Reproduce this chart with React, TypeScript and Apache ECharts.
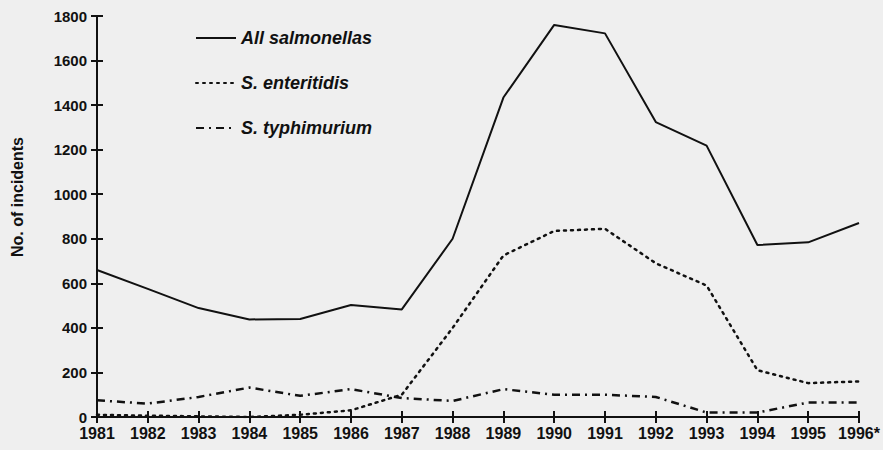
import React, { useEffect, useRef } from "react";
import * as echarts from "echarts";

const years = ["1981", "1982", "1983", "1984", "1985", "1986", "1987", "1988", "1989", "1990", "1991", "1992", "1993", "1994", "1995", "1996*"];
const allSalmonellas = [660, 575, 489, 438, 440, 503, 483, 800, 1434, 1760, 1722, 1324, 1218, 772, 784, 871];
const enteritidis = [10, 6, 3, 0, 10, 30, 100, 400, 725, 835, 845, 690, 590, 210, 152, 160];
const typhimurium = [75, 60, 90, 132, 95, 125, 85, 72, 125, 100, 100, 90, 20, 20, 65, 65];
const yTicks = { min: 0, max: 1800, interval: 200 };
const seriesNames = ["All salmonellas", "S. enteritidis", "S. typhimurium"];
const yAxisTitle = "No. of incidents";

export default function App() {
  const ref = useRef<HTMLDivElement>(null);
  useEffect(() => {
    if (!ref.current) return;
    const chart = echarts.init(ref.current, null, { renderer: "svg" });
    const black = "#111";
    const font = "'Liberation Sans', Arial, sans-serif";
    chart.setOption({
      animation: false,
      backgroundColor: "#efefef",
      grid: { left: 97, right: 24, top: 16, bottom: 33, containLabel: false },
      legend: {
        orient: "vertical",
        left: 190,
        top: 24,
        padding: 5,
        itemWidth: 40,
        itemHeight: 14,
        itemGap: 27,
        data: seriesNames,
        itemStyle: { opacity: 0 },
        textStyle: { fontFamily: font, fontWeight: "bold", fontStyle: "italic", fontSize: 18, color: black },
      },
      graphic: [
        {
          type: "text",
          x: 17,
          y: 197,
          rotation: Math.PI / 2,
          style: {
            text: yAxisTitle,
            fill: black,
            font: "bold 16px 'Liberation Sans', Arial, sans-serif",
            align: "center",
            verticalAlign: "middle",
          },
        },
      ],
      xAxis: [
        {
          type: "category",
          data: years,
          boundaryGap: false,
          position: "bottom",
          axisLine: { lineStyle: { color: black, width: 2 } },
          axisTick: { length: 6, lineStyle: { color: black, width: 2 } },
          axisLabel: { color: black, fontFamily: font, fontWeight: "bold", fontSize: 16, margin: 8, interval: 0 },
          splitLine: { show: false },
        },
        {
          type: "category",
          data: years,
          boundaryGap: false,
          position: "bottom",
          axisLine: { show: false },
          axisTick: { inside: true, length: 6, lineStyle: { color: black, width: 2 } },
          axisLabel: { show: false },
          splitLine: { show: false },
        },
      ],
      yAxis: [
        {
          type: "value",
          min: yTicks.min,
          max: yTicks.max,
          interval: yTicks.interval,
          axisLine: { show: true, lineStyle: { color: black, width: 2 } },
          axisTick: { show: true, length: 6, lineStyle: { color: black, width: 2 } },
          axisLabel: {
            color: black,
            fontFamily: font,
            fontWeight: "bold",
            fontSize: 15,
            margin: 10,
            formatter: (v: number) => String(v),
          },
          splitLine: { show: false },
        },
        {
          type: "value",
          min: yTicks.min,
          max: yTicks.max,
          interval: yTicks.interval,
          position: "left",
          axisLine: { show: false },
          axisTick: { show: true, inside: true, length: 6, lineStyle: { color: black, width: 2 } },
          axisLabel: { show: false },
          splitLine: { show: false },
        },
      ],
      series: [
        {
          name: seriesNames[0],
          type: "line",
          data: allSalmonellas,
          symbol: "none",
          color: black,
          lineStyle: { color: black, width: 2, type: "solid" },
        },
        {
          name: seriesNames[1],
          type: "line",
          data: enteritidis,
          symbol: "none",
          color: black,
          lineStyle: { color: black, width: 2.5, type: [2, 5], cap: "round" },
        },
        {
          name: seriesNames[2],
          type: "line",
          data: typhimurium,
          symbol: "none",
          color: black,
          lineStyle: { color: black, width: 2.5, type: [8, 5, 2, 5] },
        },
      ],
    });
    return () => chart.dispose();
  }, []);
  return (
    <div
      ref={ref}
      style={{ position: "absolute", left: 0, top: 0, width: 883, height: 450, background: "#efefef" }}
    />
  );
}
